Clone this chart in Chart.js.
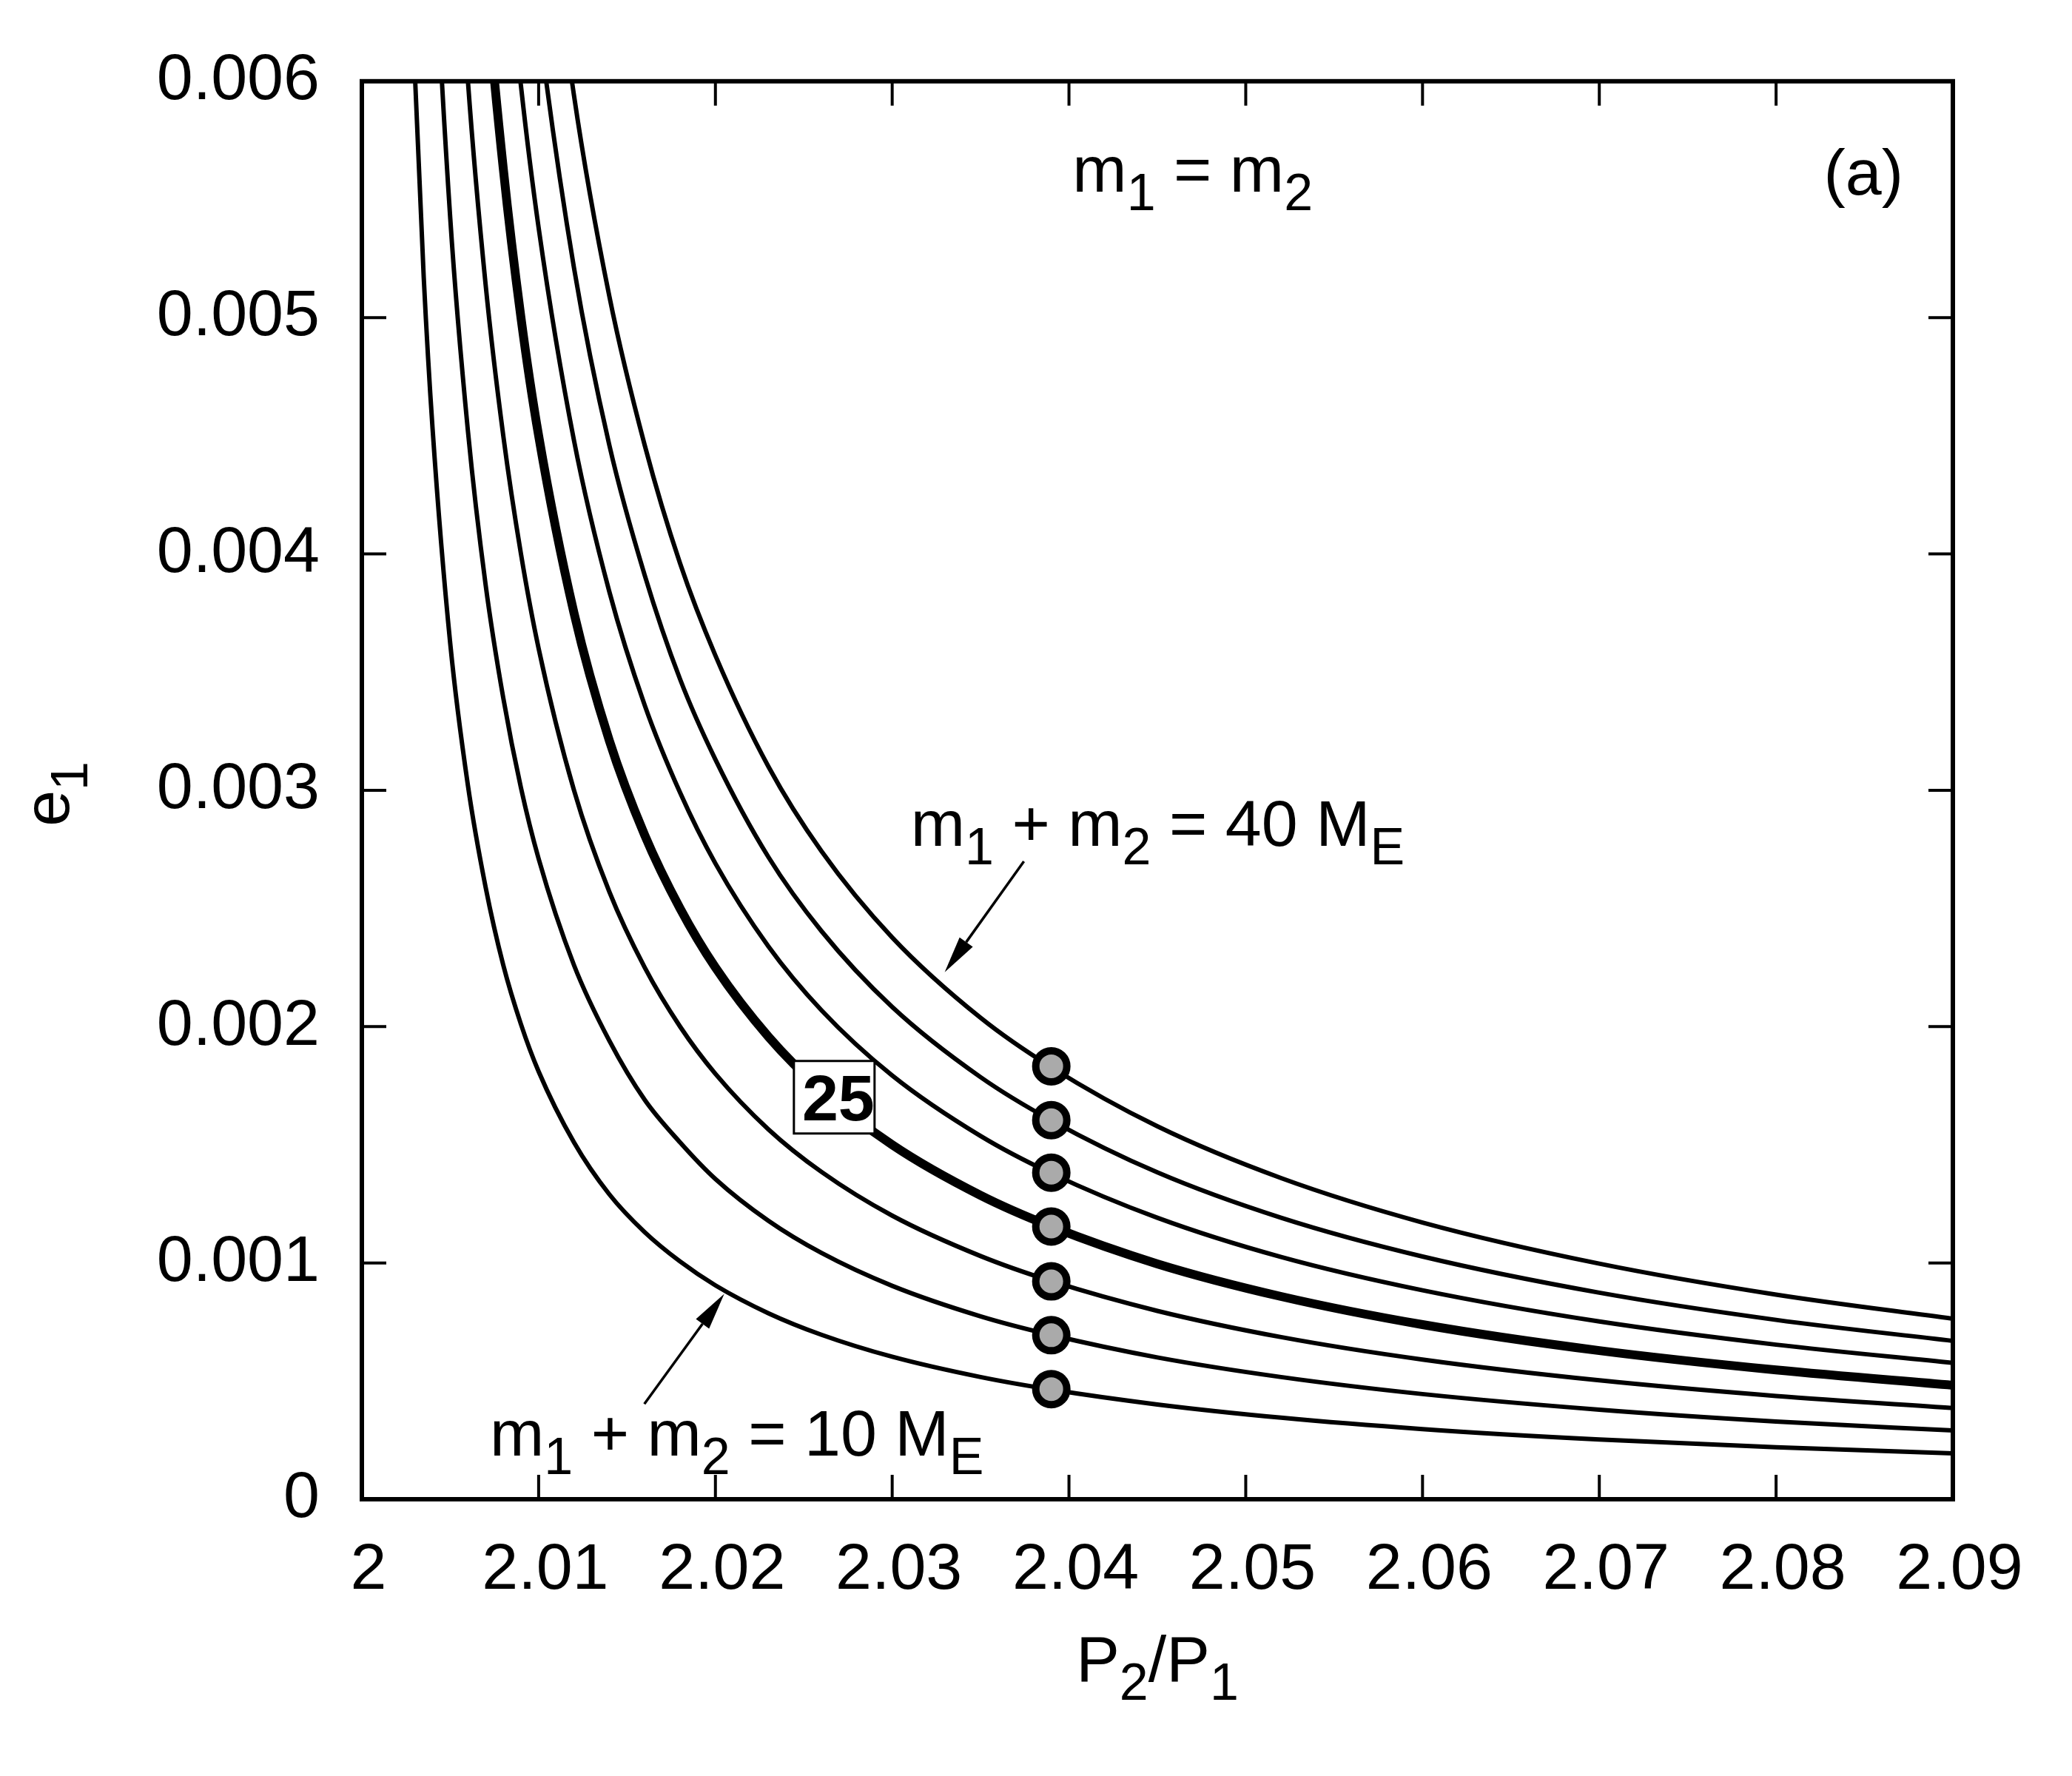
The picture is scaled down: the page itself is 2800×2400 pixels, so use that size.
<!DOCTYPE html>
<html>
<head>
<meta charset="utf-8">
<script src="https://cdn.jsdelivr.net/npm/chart.js@4.4.0/dist/chart.umd.min.js"></script>
<style>
  html, body { margin: 0; padding: 0; background: #fff; }
  canvas { display: block; }
</style>
</head>
<body>
<canvas id="chart" width="2800" height="2400" style="width:2800px;height:2400px"></canvas>
<script>
// period ratio P2/P1 (shared x for all curves)
const ratio = [2.0025, 2.003, 2.0035, 2.004, 2.005, 2.006, 2.007, 2.008, 2.009, 2.010,
  2.012, 2.014, 2.016, 2.018, 2.020, 2.023, 2.026, 2.030, 2.035, 2.039,
  2.045, 2.052, 2.060, 2.070, 2.080, 2.090];

// e1, one list per total mass (null = above the frame)
const e10 = [0.00724, 0.00603, 0.00517, 0.00453, 0.00362, 0.00302, 0.00259, 0.00226, 0.00201, 0.00181,
  0.00151, 0.00129, 0.00113, 0.001006, 0.000905, 0.000787, 0.000696, 0.000603, 0.000517, 0.000464,
  0.000401, 0.000345, 0.000297, 0.000253, 0.000220, 0.000194];
const e15 = [null, null, 0.00774, 0.00678, 0.00542, 0.00452, 0.00387, 0.00339, 0.00301, 0.00271,
  0.00226, 0.00194, 0.00169, 0.00151, 0.001355, 0.001178, 0.001042, 0.000903, 0.000774, 0.000695,
  0.000600, 0.000517, 0.000445, 0.000379, 0.000329, 0.000291];
const e20 = [null, null, null, null, 0.00720, 0.00600, 0.00514, 0.00450, 0.00400, 0.00360,
  0.00300, 0.00257, 0.00225, 0.00200, 0.00180, 0.001565, 0.001385, 0.001200, 0.001029, 0.000923,
  0.000797, 0.000686, 0.000591, 0.000503, 0.000437, 0.000386];
const e25 = [null, null, null, null, null, 0.00750, 0.00643, 0.00563, 0.00500, 0.00450,
  0.00375, 0.00321, 0.00281, 0.00250, 0.00225, 0.001957, 0.001731, 0.001500, 0.001286, 0.001154,
  0.000996, 0.000858, 0.000739, 0.000629, 0.000547, 0.000482];
const e30 = [null, null, null, null, null, null, 0.00769, 0.00673, 0.00598, 0.00538,
  0.00448, 0.00384, 0.00336, 0.00299, 0.00269, 0.002339, 0.002069, 0.001793, 0.001537, 0.001379,
  0.001191, 0.001025, 0.000884, 0.000752, 0.000654, 0.000577];
const e35 = [null, null, null, null, null, null, null, 0.00781, 0.00694, 0.00625,
  0.00521, 0.00446, 0.00391, 0.00347, 0.00313, 0.002717, 0.002404, 0.002083, 0.001786, 0.001603,
  0.001383, 0.001191, 0.001027, 0.000874, 0.000759, 0.000670];
const e40 = [null, null, null, null, null, null, null, null, 0.00792, 0.00713,
  0.00594, 0.00509, 0.00446, 0.00396, 0.00357, 0.003100, 0.002742, 0.002377, 0.002037, 0.001828,
  0.001578, 0.001359, 0.001171, 0.000997, 0.000866, 0.000764];

const masses = [10, 15, 20, 25, 30, 35, 40];
const series = [e10, e15, e20, e25, e30, e35, e40];

// grey dots
const dotRatio = 2.039;
const dotEcc = [0.000466, 0.000694, 0.000922, 0.001154, 0.001382, 0.001604, 0.001832];

const xTicks = [2, 2.01, 2.02, 2.03, 2.04, 2.05, 2.06, 2.07, 2.08, 2.09];
const yTicks = [0, 0.001, 0.002, 0.003, 0.004, 0.005, 0.006];

const FONT = '"Liberation Sans", Arial, Helvetica, sans-serif';
const SIZE = 88;
const SUB = 70;
const SUB_DROP = 25;

// parts: [text, isSub]
function richWidth(ctx, parts) {
  let w = 0;
  parts.forEach(([t, sub]) => {
    ctx.font = (sub ? SUB : SIZE) + 'px ' + FONT;
    w += ctx.measureText(t).width;
  });
  return w;
}

function drawRich(ctx, parts, x, y, align) {
  const w = richWidth(ctx, parts);
  let cx = align === 'center' ? x - w / 2 : align === 'right' ? x - w : x;
  ctx.textAlign = 'left';
  ctx.textBaseline = 'alphabetic';
  ctx.fillStyle = '#000';
  parts.forEach(([t, sub]) => {
    ctx.font = (sub ? SUB : SIZE) + 'px ' + FONT;
    ctx.fillText(t, cx, sub ? y + SUB_DROP : y);
    cx += ctx.measureText(t).width;
  });
}

function arrow(ctx, x0, y0, x1, y1) {
  const ang = Math.atan2(y1 - y0, x1 - x0);
  const len = 50, half = 11;
  const bx = x1 - len * Math.cos(ang), by = y1 - len * Math.sin(ang);
  ctx.lineWidth = 3.5;
  ctx.beginPath();
  ctx.moveTo(x0, y0);
  ctx.lineTo(bx, by);
  ctx.stroke();
  ctx.beginPath();
  ctx.moveTo(x1, y1);
  ctx.lineTo(bx + half * Math.sin(ang), by - half * Math.cos(ang));
  ctx.lineTo(bx - half * Math.sin(ang), by + half * Math.cos(ang));
  ctx.closePath();
  ctx.fill();
}

const decor = {
  id: 'decor',
  afterDatasetsDraw(chart) {
    const { ctx, chartArea: a, scales: { x, y } } = chart;
    ctx.save();
    ctx.strokeStyle = '#000';
    ctx.fillStyle = '#000';
    ctx.lineCap = 'butt';

    // inward ticks on all four sides
    ctx.lineWidth = 4;
    ctx.beginPath();
    xTicks.forEach(v => {
      const px = x.getPixelForValue(v);
      ctx.moveTo(px, a.bottom); ctx.lineTo(px, a.bottom - 33);
      ctx.moveTo(px, a.top); ctx.lineTo(px, a.top + 33);
    });
    yTicks.forEach(v => {
      const py = y.getPixelForValue(v);
      ctx.moveTo(a.left, py); ctx.lineTo(a.left + 33, py);
      ctx.moveTo(a.right, py); ctx.lineTo(a.right - 33, py);
    });
    ctx.stroke();

    // frame
    ctx.lineWidth = 6;
    ctx.strokeRect(a.left, a.top, a.right - a.left, a.bottom - a.top);

    // boxed "25" on the thick curve
    const bx = x.getPixelForValue(2.0267), by = y.getPixelForValue(0.001701);
    ctx.fillStyle = '#fff';
    ctx.fillRect(bx - 54, by - 49, 109, 98);
    ctx.lineWidth = 3;
    ctx.strokeRect(bx - 54, by - 49, 109, 98);
    ctx.fillStyle = '#000';
    ctx.font = 'bold 88px ' + FONT;
    ctx.textAlign = 'center';
    ctx.textBaseline = 'alphabetic';
    ctx.fillText('25', bx + 6, by + 31);

    // annotations
    drawRich(ctx, [['m'], ['1', 1], [' = m'], ['2', 1]],
      x.getPixelForValue(2.0402), y.getPixelForValue(0.005532), 'left');
    drawRich(ctx, [['(a)']],
      x.getPixelForValue(2.0872), y.getPixelForValue(0.00552), 'right');
    drawRich(ctx, [['m'], ['1', 1], [' + m'], ['2', 1], [' = 40 M'], ['E', 1]],
      x.getPixelForValue(2.03105), y.getPixelForValue(0.002764), 'left');
    drawRich(ctx, [['m'], ['1', 1], [' + m'], ['2', 1], [' = 10 M'], ['E', 1]],
      x.getPixelForValue(2.00724), y.getPixelForValue(0.0001845), 'left');

    ctx.fillStyle = '#000';
    arrow(ctx, x.getPixelForValue(2.03745), y.getPixelForValue(0.002699),
      x.getPixelForValue(2.03297), y.getPixelForValue(0.002230));
    arrow(ctx, x.getPixelForValue(2.01598), y.getPixelForValue(0.000403),
      x.getPixelForValue(2.02050), y.getPixelForValue(0.000869));

    // axis titles
    drawRich(ctx, [['P'], ['2', 1], ['/P'], ['1', 1]], (a.left + a.right) / 2, 2272, 'center');
    ctx.save();
    ctx.translate(93, (a.top + a.bottom) / 2 + 5);
    ctx.rotate(-Math.PI / 2);
    drawRich(ctx, [['e'], ['1', 1]], 0, 0, 'center');
    ctx.restore();

    ctx.restore();
  }
};

const lines = series.map((vals, i) => ({
  label: masses[i] + ' M_E',
  data: ratio.map((r, j) => ({ x: r, y: vals[j] })),
  borderColor: '#000',
  borderWidth: masses[i] === 25 ? 12 : 6,
  pointRadius: 0,
  fill: false,
  cubicInterpolationMode: 'monotone',
  clip: 0,
  order: 2
}));

const dots = {
  label: 'dots',
  data: dotEcc.map(v => ({ x: dotRatio, y: v })),
  showLine: false,
  pointRadius: 21,
  pointBorderWidth: 10,
  pointBackgroundColor: '#aaaaaa',
  pointBorderColor: '#000',
  order: 1
};

new Chart(document.getElementById('chart'), {
  type: 'line',
  data: { datasets: [...lines, dots] },
  options: {
    responsive: false,
    animation: false,
    devicePixelRatio: 1,
    layout: { padding: { left: 0, right: 161, top: 107, bottom: 0 } },
    plugins: { legend: { display: false }, tooltip: { enabled: false } },
    scales: {
      x: {
        type: 'linear', min: 2, max: 2.09,
        grid: { display: false, drawTicks: false },
        border: { display: false },
        ticks: {
          color: '#000', font: { family: FONT, size: SIZE }, padding: 44,
          labelOffset: 9, maxRotation: 0, autoSkip: false,
          callback: v => v === 2 ? '2' : v.toFixed(2)
        },
        afterBuildTicks: s => { s.ticks = xTicks.map(v => ({ value: v })); },
        afterFit: s => { s.height = 374; }
      },
      y: {
        type: 'linear', min: 0, max: 0.006,
        grid: { display: false, drawTicks: false },
        border: { display: false },
        ticks: {
          color: '#000', font: { family: FONT, size: SIZE }, padding: 57,
          autoSkip: false,
          callback: v => v === 0 ? '0' : v.toFixed(3)
        },
        afterBuildTicks: s => { s.ticks = yTicks.map(v => ({ value: v })); },
        afterFit: s => { s.width = 489; }
      }
    }
  },
  plugins: [decor]
});
</script>
</body>
</html>
